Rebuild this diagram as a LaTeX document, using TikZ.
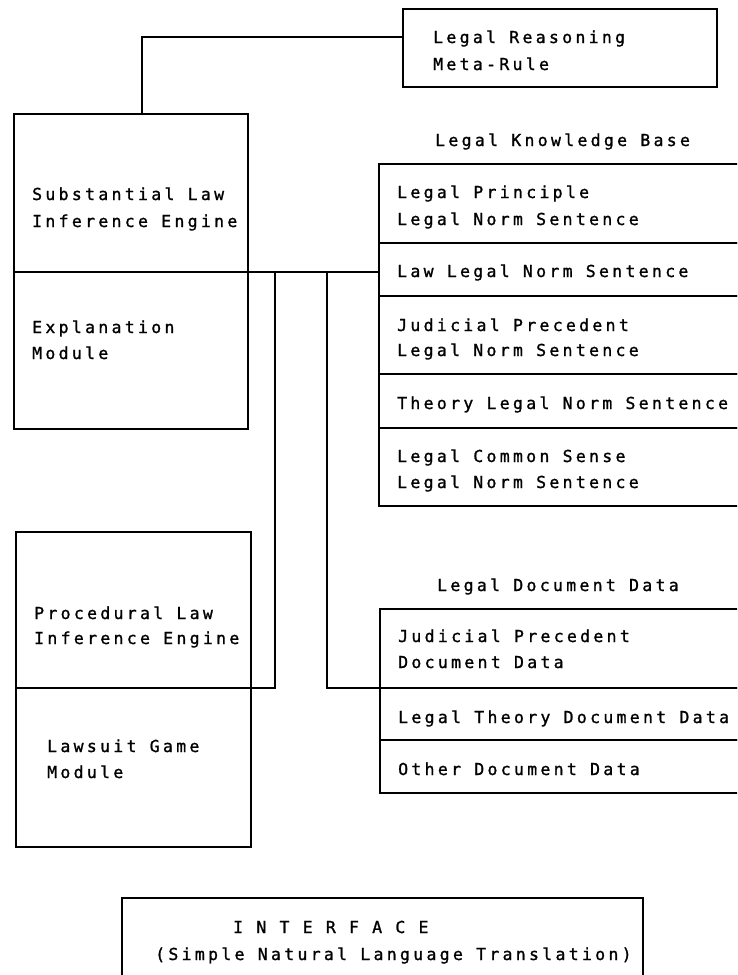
\documentclass[tikz,border=0pt]{standalone}
\usepackage{fontspec}
% wide-tracked sans mono, like a pen-plotter lettering
\newfontfamily\plotter[LetterSpace=20,FakeBold=1.2]{DejaVu Sans Mono}
\begin{document}
\begin{tikzpicture}[x=1pt,y=-1pt,
  box/.style={draw, line width=1.3pt, rectangle, outer sep=0pt, inner sep=0pt, anchor=north west},
  wire/.style={line width=1.3pt},
  lbl/.style={anchor=base west, inner sep=0pt, font={\plotter\fontsize{16.5}{19}\selectfont}}]
\useasboundingbox (0,0) rectangle (737,975);
\clip (0,0) rectangle (737,975);

% meta-rule
\node[box, minimum width=314pt, minimum height=78pt] (meta) at (403,9) {};
\node[lbl] (tMeta1) at (433,43) {Legal Reasoning};
\node[lbl] (tMeta2) at (433,70) {Meta-Rule};

% substantial law engine + explanation
\node[box, minimum width=234pt, minimum height=158pt] (subst) at (14,114) {};
\node[box, minimum width=234pt, minimum height=157pt] (expl) at (14,272) {};
\node[lbl] (tSub1) at (32,200) {Substantial Law};
\node[lbl] (tSub2) at (32,227) {Inference Engine};
\node[lbl] (tExp1) at (32,333) {Explanation};
\node[lbl] (tExp2) at (32,359) {Module};

% procedural law engine + lawsuit game
\node[box, minimum width=235pt, minimum height=156pt] (proc) at (16,532) {};
\node[box, minimum width=235pt, minimum height=159pt] (suit) at (16,688) {};
\node[lbl] (tPro1) at (34,619) {Procedural Law};
\node[lbl] (tPro2) at (34,644) {Inference Engine};
\node[lbl] (tSuit1) at (47,752) {Lawsuit Game};
\node[lbl] (tSuit2) at (47,778) {Module};

% legal knowledge base
\node[lbl] (tKB) at (435,146) {Legal Knowledge Base};
\node[box, minimum width=370pt, minimum height=79pt] (kb1) at (379,164) {};
\node[box, minimum width=370pt, minimum height=53pt] (kb2) at (379,243) {};
\node[box, minimum width=370pt, minimum height=78pt] (kb3) at (379,296) {};
\node[box, minimum width=370pt, minimum height=54pt] (kb4) at (379,374) {};
\node[box, minimum width=370pt, minimum height=78pt] (kb5) at (379,428) {};
\node[lbl] (tKb1a) at (397,198) {Legal Principle};
\node[lbl] (tKb1b) at (397,225) {Legal Norm Sentence};
\node[lbl] (tKb2) at (397,277) {Law Legal Norm Sentence};
\node[lbl] (tKb3a) at (397,331) {Judicial Precedent};
\node[lbl] (tKb3b) at (397,356) {Legal Norm Sentence};
\node[lbl] (tKb4) at (397,409) {Theory Legal Norm Sentence};
\node[lbl] (tKb5a) at (397,462) {Legal Common Sense};
\node[lbl] (tKb5b) at (397,488) {Legal Norm Sentence};

% legal document data
\node[lbl] (tDoc) at (437,591) {Legal Document Data};
\node[box, minimum width=370pt, minimum height=79pt] (doc1) at (380,609) {};
\node[box, minimum width=370pt, minimum height=52pt] (doc2) at (380,688) {};
\node[box, minimum width=370pt, minimum height=53pt] (doc3) at (380,740) {};
\node[lbl] (tDoc1a) at (398,642) {Judicial Precedent};
\node[lbl] (tDoc1b) at (398,668) {Document Data};
\node[lbl] (tDoc2) at (398,723) {Legal Theory Document Data};
\node[lbl] (tDoc3) at (398,775) {Other Document Data};

% interface
\node[box, minimum width=521pt, minimum height=100pt] (iface) at (122,898) {};
\node[lbl] (tIf1) at (233,933) {I N T E R F A C E};
\node[lbl] (tIf2) at (155,960) {(Simple Natural Language Translation)};

% connectors
\draw[wire] ([yshift=11pt]meta.west) -| ([xshift=11pt]subst.north);
\draw[wire] (subst.south east) -- (subst.south east -| kb2.west);
\coordinate (tapA) at (275,272);
\coordinate (tapB) at (327,272);
\draw[wire] (tapA) |- (proc.south east);
\draw[wire] (tapB) |- (doc1.south west);
\end{tikzpicture}
\end{document}
